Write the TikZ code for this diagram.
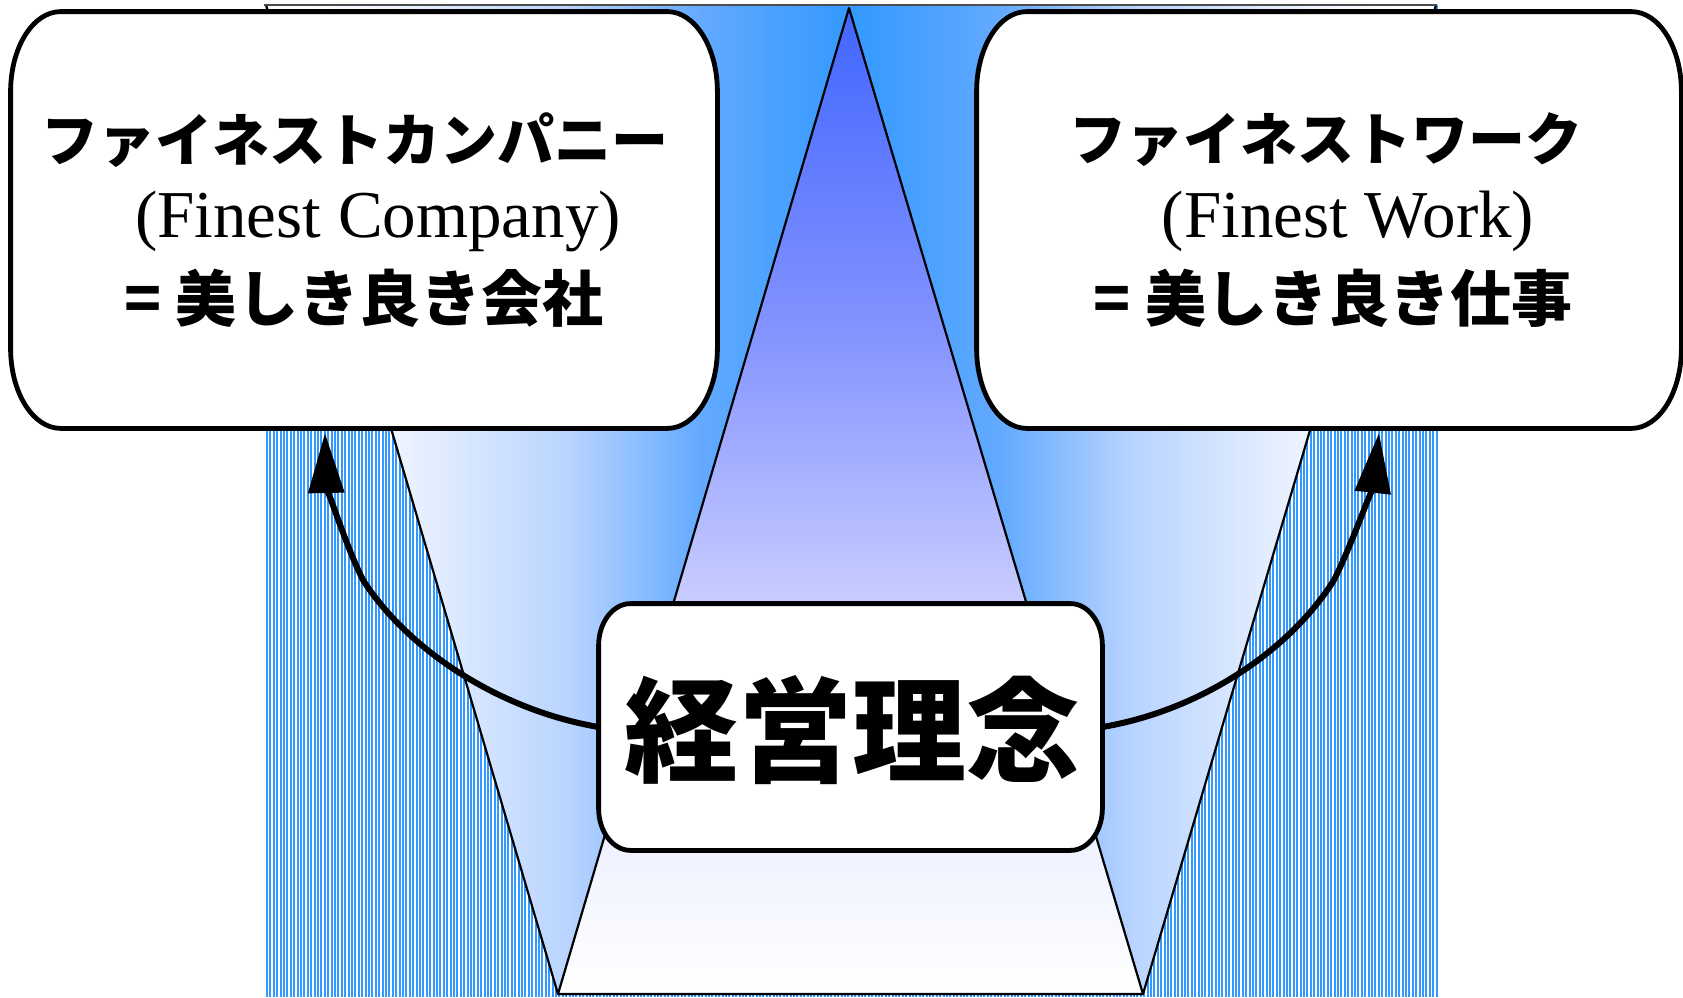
\documentclass[tikz,border=0pt]{standalone}
\usepackage{fontspec}
\setmainfont{Liberation Serif}
\newfontfamily\jp{Noto Sans CJK JP}
\usetikzlibrary{calc,arrows.meta}
\definecolor{stripeblue}{RGB}{51,153,255}
\definecolor{t0}{RGB}{255,255,255}
\definecolor{t1}{RGB}{242,246,255}
\definecolor{t2}{RGB}{184,212,255}
\definecolor{t3}{RGB}{100,170,255}
\definecolor{t4}{RGB}{51,153,255}
\definecolor{v0}{RGB}{64,102,255}
\definecolor{v32}{RGB}{130,146,255}
\definecolor{v60}{RGB}{200,204,255}
\definecolor{v86}{RGB}{240,243,255}
\pgfdeclarehorizontalshading{trapsh}{100bp}{color(0bp)=(t0); color(25bp)=(t0); color(30bp)=(t1); color(38bp)=(t2); color(43.5bp)=(t3); color(50bp)=(t4); color(56.5bp)=(t3); color(62bp)=(t2); color(70bp)=(t1); color(75bp)=(t0); color(100bp)=(t0)}
\pgfdeclareverticalshading{trish}{100bp}{color(0bp)=(white); color(25bp)=(white); color(32bp)=(v86); color(45bp)=(v60); color(59bp)=(v32); color(75bp)=(v0); color(100bp)=(v0)}
\newcommand\roundbox[3]{%
  \draw[boxline] ($(#1.north west)+(#2,0)$) -- ($(#1.north east)+(-#2,0)$)
    arc[start angle=270,end angle=360,x radius=#2,y radius=#3]
    -- ($(#1.south east)+(0,-#3)$)
    arc[start angle=0,end angle=90,x radius=#2,y radius=#3]
    -- ($(#1.south west)+(#2,0)$)
    arc[start angle=90,end angle=180,x radius=#2,y radius=#3]
    -- ($(#1.north west)+(0,#3)$)
    arc[start angle=180,end angle=270,x radius=#2,y radius=#3]
    -- cycle;}
\begin{document}
\begin{tikzpicture}[x=0.5pt,y=-0.5pt,
  boxline/.style={draw=black,fill=white,line width=2.4pt,line join=round},
  boxshape/.style={rectangle,draw=none,inner sep=0pt},
  edgeline/.style={draw=black,line width=1.1pt,line join=round},
  stripe/.style={draw=stripeblue,line width=0.95pt},
  kata/.style={font=\jp\bfseries\fontsize{28.5}{30}\selectfont,inner sep=0pt},
  kanji/.style={font=\jp\bfseries\fontsize{30.5}{32}\selectfont,inner sep=0pt},
  eng/.style={font=\fontsize{33.5}{36}\selectfont,inner sep=0pt},
  big/.style={font=\jp\bfseries\fontsize{57}{60}\selectfont,inner sep=0pt},
  arr/.style={line width=3pt,line join=round,-{Triangle[length=30pt,width=17.5pt]}}]
\useasboundingbox (0,0) rectangle (1683,997);
% stripes
\foreach \i in {0,...,344} {
  \draw[stripe] ({267+3.4*\i},5) -- ({267+3.4*\i},997);
}
% inverted trapezoid with horizontal gradient
\shade[shading=trapsh] (266,5) -- (1436,5) -- (1143,994) -- (558,994) -- cycle;
\draw[edgeline] (266,5) -- (558,994) -- (1143,994) -- (1436,5);
% triangle
\shade[shading=trish] (849,8) -- (1143,994) -- (558,994) -- cycle;
\draw[edgeline] (849,8) -- (1143,994) -- (558,994) -- cycle;
\draw[draw=black!70,line width=0.75pt] (264,5) -- (1437,5);
% boxes
\node[boxshape,minimum width=353pt,minimum height=208pt] (lbox) at (364,220) {};
\node[boxshape,minimum width=352pt,minimum height=208pt] (rbox) at (1329,220) {};
\node[boxshape,minimum width=251.5pt,minimum height=123pt] (cbox) at (850.5,727) {};
\roundbox{lbox}{50}{80}
\roundbox{rbox}{50}{80}
\roundbox{cbox}{32}{42}
% texts
\node[kata] (lk) at (355,140) {ファイネストカンパニー};
\node[eng] (le) at (378,221) {(Finest Company)};
\node[kanji] (lj) at (364,298) {= 美しき良き会社};
\node[kata] (rk) at (1326,140) {ファイネストワーク};
\node[eng] (re) at (1348,221) {(Finest Work)};
\node[kanji] (rj) at (1333,298) {= 美しき良き仕事};
\node[big] (ct) at (852,730) {経営理念};
% arrows
\coordinate (ltip) at (325,433);
\coordinate (rtip) at (1379,433);
\draw[arr] (cbox.west) .. controls (499,710) and (408,650) .. (363,580)
  .. controls (343,540) and (326,480) .. (ltip);
\draw[arr] (cbox.east) .. controls (1202,710) and (1290,650) .. (1334,580)
  .. controls (1354,540) and (1374,480) .. (rtip);
\end{tikzpicture}
\end{document}
